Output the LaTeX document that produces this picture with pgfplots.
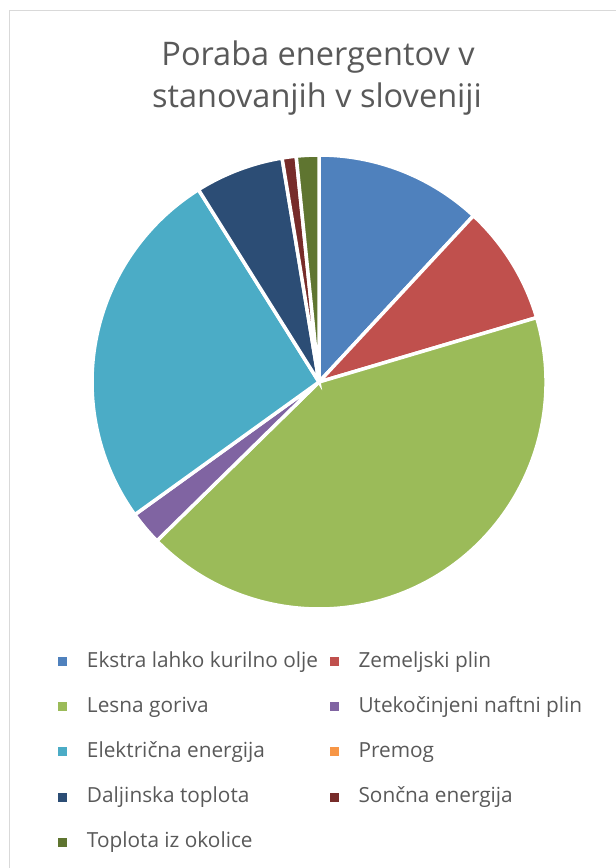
\documentclass[border=0pt]{standalone}
\usepackage{fontspec}
\setmainfont{Open Sans}
\usepackage{pgfplots}
\pgfplotsset{compat=1.18}

\definecolor{c1}{HTML}{4F81BD}
\definecolor{c2}{HTML}{C0504D}
\definecolor{c3}{HTML}{9BBB59}
\definecolor{c4}{HTML}{8064A2}
\definecolor{c5}{HTML}{4BACC6}
\definecolor{c6}{HTML}{F79646}
\definecolor{c7}{HTML}{2C4D75}
\definecolor{c8}{HTML}{772C2A}
\definecolor{c9}{HTML}{5F7530}
\definecolor{txt}{HTML}{595959}
\definecolor{frame}{HTML}{D9D9D9}

\begin{document}
\begin{tikzpicture}
    \useasboundingbox (0,0) rectangle (616bp,-868bp);
    \draw[frame, line width=1.5bp] (9.5bp,-10.5bp) rectangle (700bp,-950bp);

    % title
    \node[anchor=base, text=txt, font=\fontsize{32.5bp}{42bp}\selectfont] at (318bp,-65bp) {Poraba energentov v};
    \node[anchor=base, text=txt, font=\fontsize{32.5bp}{42bp}\selectfont] at (317bp,-107bp) {stanovanjih v sloveniji};

    \begin{axis}[
            at={(92bp,-609bp)}, anchor=south west,
            x=227bp, y=227bp,
            xmin=-1, xmax=1, ymin=-1, ymax=1,
            hide axis,
            clip=false,
            legend columns=2,
            legend cell align=left,
            legend image code/.code={\fill[#1] (0bp,1bp) rectangle (9bp,10bp);},
            legend style={
                    at={(-0.0749,-0.1057)}, anchor=north west,
                    draw=none, fill=none, inner sep=0pt, outer sep=0pt,
                    font=\fontsize{20.8bp}{24bp}\selectfont, text=txt,
                    row sep=34.75bp,
                    nodes={inner sep=0pt, text height=0pt, text depth=0pt},
                    /tikz/every odd column/.append style={column sep=20bp},
                    /tikz/every even column/.append style={column sep=11.5bp}
                }
        ]
        % shares in %, clockwise from the top
        \pgfplotsextra{
            \def\tot{99.9}
            \gdef\cum{0}
            \foreach \v/\c in {11.9/c1, 8.5/c2, 42.2/c3, 2.4/c4, 26.0/c5, 0/c6, 6.3/c7, 1.0/c8, 1.6/c9} {
                \pgfmathsetmacro{\a}{90-(\cum/\tot)*360}
                \pgfmathsetmacro{\b}{90-((\cum+\v)/\tot)*360}
                \ifdim\v pt>0pt
                    \filldraw[fill=\c, draw=white, line width=3.5bp]
                        (axis cs:0,0) -- (axis cs:{cos(\a)},{sin(\a)})
                        arc[start angle=\a, end angle=\b, radius=227bp] -- cycle;
                \fi
                \pgfmathsetmacro{\nc}{\cum+\v}
                \xdef\cum{\nc}
            }
        }

        \addlegendimage{fill=c1, draw=none}
        \addlegendentry{Ekstra lahko kurilno olje}
        \addlegendimage{fill=c2, draw=none}
        \addlegendentry{Zemeljski plin}
        \addlegendimage{fill=c3, draw=none}
        \addlegendentry{Lesna goriva}
        \addlegendimage{fill=c4, draw=none}
        \addlegendentry{Utekočinjeni naftni plin}
        \addlegendimage{fill=c5, draw=none}
        \addlegendentry{Električna energija}
        \addlegendimage{fill=c6, draw=none}
        \addlegendentry{Premog}
        \addlegendimage{fill=c7, draw=none}
        \addlegendentry{Daljinska toplota}
        \addlegendimage{fill=c8, draw=none}
        \addlegendentry{Sončna energija}
        \addlegendimage{fill=c9, draw=none}
        \addlegendentry{Toplota iz okolice}
    \end{axis}
\end{tikzpicture}
\end{document}
